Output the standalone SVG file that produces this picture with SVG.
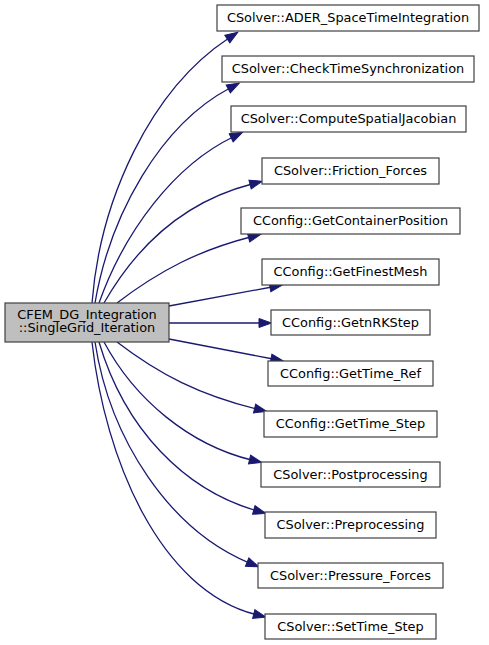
<svg xmlns="http://www.w3.org/2000/svg" xmlns:xlink="http://www.w3.org/1999/xlink" width="489" height="645" viewBox="0 0 489 645">
<style>
.n rect{fill:#ffffff;stroke:#404040;stroke-width:1.2}
#src rect{fill:#bfbfbf}
text{font-family:"DejaVu Sans",sans-serif;font-size:12.9px;fill:#000;text-anchor:middle}
.ln{fill:none;stroke:#191970;stroke-width:1.3}
.ar{fill:#191970;stroke:#191970;stroke-width:1}
</style>
<defs>
<path id="ah" d="M-12.5,-4.5 L0,0 L-12.5,4.5 Z"/>
</defs>
<rect width="489" height="645" fill="#fff"/>
<g id="edges">
<path class="ln" d="M92,303 C100,200 150,90 229,38"/>
<path class="ln" d="M95,303 C110,215 160,125 230,88"/>
<path class="ln" d="M99,303 C125,230 175,165 233,137"/>
<path class="ln" d="M104,303 C140,240 190,200 252,184"/>
<path class="ln" d="M117,303 C160,270 200,250 250.5,237"/>
<path class="ln" d="M169,306 L272,287"/>
<path class="ln" d="M169,323 L261,323"/>
<path class="ln" d="M169,339 L273,359"/>
<path class="ln" d="M117,342 C160,375 200,395 256.5,409"/>
<path class="ln" d="M104,342 C135,400 190,445 251.5,460"/>
<path class="ln" d="M99,342 C125,430 185,490 255.7,510.5"/>
<path class="ln" d="M95,342 C110,440 170,530 249,562.8"/>
<path class="ln" d="M92,342 C105,460 160,590 255.7,614.5"/>
<g class="ar">
<use href="#ah" xlink:href="#ah" transform="translate(237.77,32.22) rotate(-33.4)"/>
<use href="#ah" xlink:href="#ah" transform="translate(239.28,83.09) rotate(-27.9)"/>
<use href="#ah" xlink:href="#ah" transform="translate(242.45,132.43) rotate(-25.8)"/>
<use href="#ah" xlink:href="#ah" transform="translate(262.16,181.37) rotate(-14.5)"/>
<use href="#ah" xlink:href="#ah" transform="translate(260.67,234.39) rotate(-14.4)"/>
<use href="#ah" xlink:href="#ah" transform="translate(282.32,285.09) rotate(-10.5)"/>
<use href="#ah" xlink:href="#ah" transform="translate(271.5,323)"/>
<use href="#ah" xlink:href="#ah" transform="translate(283.31,360.98) rotate(10.9)"/>
<use href="#ah" xlink:href="#ah" transform="translate(266.7,411.52) rotate(13.9)"/>
<use href="#ah" xlink:href="#ah" transform="translate(261.71,462.49) rotate(13.7)"/>
<use href="#ah" xlink:href="#ah" transform="translate(265.78,513.43) rotate(16.2)"/>
<use href="#ah" xlink:href="#ah" transform="translate(258.7,566.82) rotate(22.5)"/>
<use href="#ah" xlink:href="#ah" transform="translate(265.87,617.11) rotate(14.4)"/>
</g>
</g>
<g class="n" id="src"><rect x="5" y="303" width="164" height="39"/><text x="87" y="319">CFEM_DG_Integration</text><text x="87" y="332">::SingleGrid_Iteration</text></g>
<g class="n" id="n1"><rect x="217" y="5" width="262" height="26"/><text x="348" y="22">CSolver::ADER_SpaceTimeIntegration</text></g>
<g class="n" id="n2"><rect x="222" y="56" width="252" height="26"/><text x="348" y="73">CSolver::CheckTimeSynchronization</text></g>
<g class="n" id="n3"><rect x="231" y="106" width="235" height="26"/><text x="348.5" y="123">CSolver::ComputeSpatialJacobian</text></g>
<g class="n" id="n4"><rect x="262" y="158" width="177" height="26"/><text x="350.5" y="175">CSolver::Friction_Forces</text></g>
<g class="n" id="n5"><rect x="241" y="208" width="219" height="26"/><text x="350.5" y="225">CConfig::GetContainerPosition</text></g>
<g class="n" id="n6"><rect x="262" y="259" width="177" height="26"/><text x="350.5" y="276">CConfig::GetFinestMesh</text></g>
<g class="n" id="n7"><rect x="271" y="310" width="159" height="25"/><text x="350.5" y="327">CConfig::GetnRKStep</text></g>
<g class="n" id="n8"><rect x="268" y="361" width="165" height="25"/><text x="350.5" y="378">CConfig::GetTime_Ref</text></g>
<g class="n" id="n9"><rect x="264" y="411" width="173" height="26"/><text x="350.5" y="428">CConfig::GetTime_Step</text></g>
<g class="n" id="n10"><rect x="261" y="462" width="179" height="25"/><text x="350.5" y="479">CSolver::Postprocessing</text></g>
<g class="n" id="n11"><rect x="265" y="512" width="171" height="26"/><text x="350.5" y="529">CSolver::Preprocessing</text></g>
<g class="n" id="n12"><rect x="258" y="563" width="185" height="25"/><text x="350.5" y="580">CSolver::Pressure_Forces</text></g>
<g class="n" id="n13"><rect x="265" y="614" width="171" height="25"/><text x="350.5" y="631">CSolver::SetTime_Step</text></g>
</svg>
